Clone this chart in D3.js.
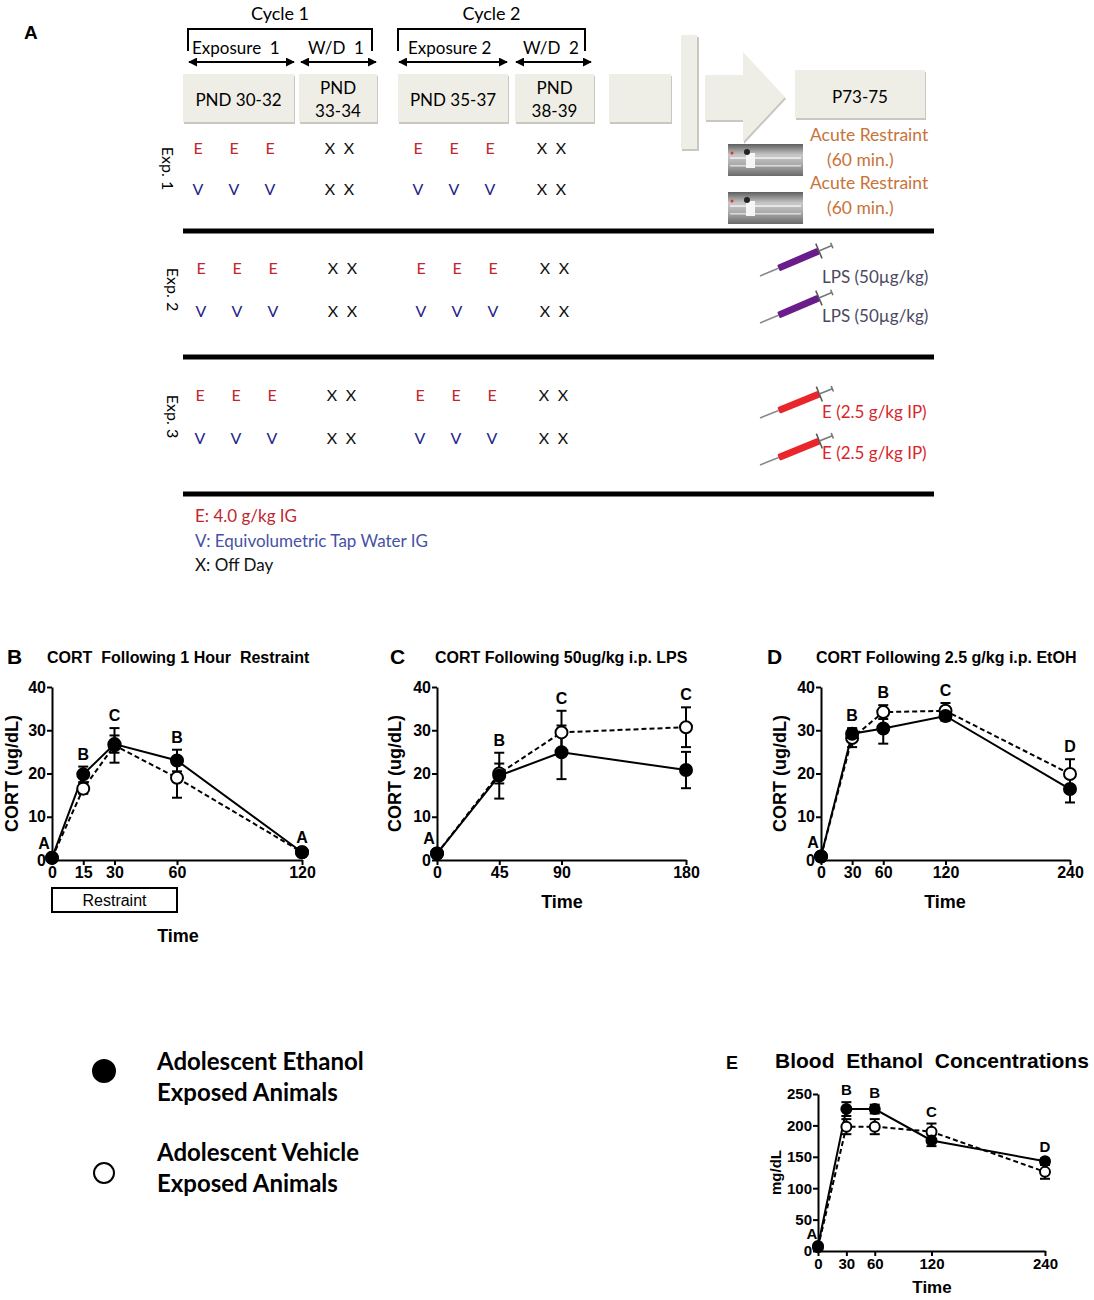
<!DOCTYPE html>
<html>
<head>
<meta charset="utf-8">
<script src="https://cdn.jsdelivr.net/npm/d3@7"></script>
<style>
  body { margin: 0; background: #fff; }
  svg { display: block; }
</style>
</head>
<body>
<div id="fig"></div>
<script>
'use strict'

////////////////////////////////////
/////////////// data ///////////////
////////////////////////////////////

// panel A - design
const cycleLabels = ['Cycle 1', 'Cycle 2']
const phaseLabels = ['Exposure  1', 'W/D  1', 'Exposure 2', 'W/D  2']
const pndLabels = [['PND 30-32'], ['PND', '33-34'], ['PND 35-37'], ['PND', '38-39']]
const adultLabel = 'P73-75'
const scheduleDays = [30, 31, 32, 33, 34, 35, 36, 37, 38, 39]
const ethanolRow = ['E', 'E', 'E', 'X', 'X', 'E', 'E', 'E', 'X', 'X']
const vehicleRow = ['V', 'V', 'V', 'X', 'X', 'V', 'V', 'V', 'X', 'X']
const expLabels = ['Exp. 1', 'Exp. 2', 'Exp. 3']
const challengeLabels = [['Acute Restraint', '(60 min.)'], ['LPS (50µg/kg)'], ['E (2.5 g/kg IP)']]
const doseKey = ['E: 4.0 g/kg IG', 'V: Equivolumetric Tap Water IG', 'X: Off Day']

// panel B - CORT after restraint
const restraintTimes = [0, 15, 30, 60, 120]
const restraintEthanol = [0.5, 19.8, 26.8, 23.0, 1.8]
const restraintEthanolErr = [0.4, 1.8, 2.0, 2.5, 0.4]
const restraintVehicle = [0.5, 16.5, 26.5, 19.0, 1.8]
const restraintVehicleErr = [0.4, 1.2, 4.0, 4.6, 0.4]
const restraintLetters = ['A', 'B', 'C', 'B', 'A']

// panel C - CORT after LPS
const lpsTimes = [0, 45, 90, 180]
const lpsEthanol = [1.5, 19.5, 24.9, 20.8]
const lpsEthanolErr = [0.5, 5.3, 6.2, 4.2]
const lpsVehicle = [1.5, 20.0, 29.5, 30.7]
const lpsVehicleErr = [0.5, 2.3, 5.0, 4.6]
const lpsLetters = ['A', 'B', 'C', 'C']

// panel D - CORT after i.p. ethanol
const etohTimes = [0, 30, 60, 120, 240]
const etohEthanol = [0.8, 29.2, 30.4, 33.3, 16.4]
const etohEthanolErr = [0.3, 1.3, 3.5, 1.1, 3.1]
const etohVehicle = [0.8, 28.2, 34.2, 34.5, 19.9]
const etohVehicleErr = [0.3, 2.1, 1.6, 1.8, 3.4]
const etohLetters = ['A', 'B', 'B', 'C', 'D']

// panel E - blood ethanol
const becTimes = [0, 30, 60, 120, 240]
const becEthanol = [8, 226, 226, 176, 143]
const becEthanolErr = [3, 11, 7, 9, 4]
const becVehicle = [6, 198, 198, 190, 126]
const becVehicleErr = [3, 12, 12, 13, 11]
const becLetters = ['A', 'B', 'B', 'C', 'D']

const legendLabels = [['Adolescent Ethanol', 'Exposed Animals'], ['Adolescent Vehicle', 'Exposed Animals']]

////////////////////////////////////
//////////// svg setup /////////////
////////////////////////////////////

const svgWidth = 1094, svgHeight = 1300
const svg = d3.select('#fig').append('svg')
    .attr('width', svgWidth)
    .attr('height', svgHeight)
    .attr('viewBox', `0 0 ${svgWidth} ${svgHeight}`)

const calibri = 'Lato, "Open Sans", sans-serif'
const arial = '"Liberation Sans", Arial, sans-serif'
const boxFill = '#efeee6', boxShadow = '#c9c8c0'

const defs = svg.append('defs')
defs.append('marker')
    .attr('id', 'arrowHead')
    .attr('viewBox', '0 0 10 10')
    .attr('refX', 9).attr('refY', 5)
    .attr('markerWidth', 4.5).attr('markerHeight', 4.5)
    .attr('orient', 'auto-start-reverse')
    .append('path').attr('d', 'M0,0 L10,5 L0,10 z').attr('fill', '#000')

const photoGrad = defs.append('linearGradient').attr('id', 'photoGrad')
    .attr('x1', 0).attr('y1', 0).attr('x2', 0).attr('y2', 1)
photoGrad.append('stop').attr('offset', '0%').attr('stop-color', '#5e5e5e')
photoGrad.append('stop').attr('offset', '35%').attr('stop-color', '#c9c9c9')
photoGrad.append('stop').attr('offset', '65%').attr('stop-color', '#a9a9a9')
photoGrad.append('stop').attr('offset', '100%').attr('stop-color', '#6a6a6a')

////////////////////////////////////
///////////// panel A //////////////
////////////////////////////////////

const A = svg.append('g').attr('class', 'panelA')

A.append('text').attr('x', 24).attr('y', 39)
    .style('font', `bold 19px ${arial}`).text('A')

// brackets for the two cycles
const brackets = [[188, 372], [398, 585]]
brackets.forEach((b, i) => {
    A.append('path')
        .attr('d', `M${b[0]},51 V29 H${b[1]} V51`)
        .attr('fill', 'none').attr('stroke', '#000').attr('stroke-width', 2)
    A.append('text').attr('x', (b[0] + b[1]) / 2).attr('y', 20)
        .attr('text-anchor', 'middle')
        .style('font', `18px ${calibri}`).text(cycleLabels[i])
})

const phaseX = [192, 308, 408, 523]
const phaseArrows = [[189, 294], [301, 376], [399, 507], [516, 591]]
phaseLabels.forEach((p, i) => {
    A.append('text').attr('x', phaseX[i]).attr('y', 54)
        .attr('xml:space', 'preserve')
        .style('font', `17px ${calibri}`).style('white-space', 'pre').text(p)
    A.append('line')
        .attr('x1', phaseArrows[i][0]).attr('x2', phaseArrows[i][1])
        .attr('y1', 62).attr('y2', 62)
        .attr('stroke', '#000').attr('stroke-width', 2)
        .attr('marker-start', 'url(#arrowHead)').attr('marker-end', 'url(#arrowHead)')
})

// grey day boxes
const boxes = [
    { x: 183, y: 74, w: 111, h: 48 }, { x: 299, y: 74, w: 78, h: 48 },
    { x: 398, y: 74, w: 110, h: 48 }, { x: 515, y: 74, w: 79, h: 48 },
    { x: 609, y: 74, w: 62, h: 48 }, { x: 795, y: 70, w: 130, h: 48 }
]
A.selectAll('.boxShadow').data(boxes).join('rect')
    .attr('class', 'boxShadow')
    .attr('x', d => d.x + 1).attr('y', d => d.y + 2)
    .attr('width', d => d.w).attr('height', d => d.h).attr('fill', boxShadow)
A.selectAll('.box').data(boxes).join('rect')
    .attr('class', 'box')
    .attr('x', d => d.x).attr('y', d => d.y)
    .attr('width', d => d.w).attr('height', d => d.h).attr('fill', boxFill)

pndLabels.forEach((lines, i) => {
    const b = boxes[i]
    const t = A.append('text').attr('text-anchor', 'middle')
        .style('font', `17px ${calibri}`)
    lines.forEach((l, j) => {
        t.append('tspan').attr('x', b.x + b.w / 2)
            .attr('y', lines.length === 1 ? b.y + 32 : b.y + 20 + j * 23)
            .text(l)
    })
})
A.append('text').attr('x', boxes[5].x + boxes[5].w / 2).attr('y', boxes[5].y + 33)
    .attr('text-anchor', 'middle').style('font', `17px ${calibri}`).text(adultLabel)

// time break bar and block arrow
A.append('rect').attr('x', 682).attr('y', 37).attr('width', 17).attr('height', 114).attr('fill', boxShadow)
A.append('rect').attr('x', 681).attr('y', 35).attr('width', 16).attr('height', 114).attr('fill', boxFill)
const blockArrow = 'M705,75 H743 V52 L785,97 L743,142 V120 H705 Z'
A.append('path').attr('d', blockArrow).attr('fill', boxShadow).attr('transform', 'translate(1,2)')
A.append('path').attr('d', blockArrow).attr('fill', boxFill)

// schedule rows
const dayX = d3.scaleLinear()
    .domain([30, 32, 33, 34, 35, 37, 38, 39])
    .range([198, 270, 330, 349, 418, 490, 542, 561])
const codeColor = { E: '#c0262e', V: '#25258a', X: '#111' }
const rowY = [[154, 195], [274, 317], [401, 444]]
const rowShift = [0, 3, 2]
const sepY = [231, 357, 494]

expLabels.forEach((lab, e) => {
    [ethanolRow, vehicleRow].forEach((row, r) => {
        A.selectAll(`.code${e}${r}`).data(row).join('text')
            .attr('class', `code${e}${r}`)
            .attr('x', (d, i) => dayX(scheduleDays[i]) + rowShift[e])
            .attr('y', rowY[e][r])
            .attr('text-anchor', 'middle')
            .attr('fill', d => codeColor[d])
            .style('font', `16px ${calibri}`)
            .text(d => d)
    })
    const cy = (rowY[e][0] + rowY[e][1]) / 2 - 6
    A.append('text')
        .attr('transform', `translate(${e === 0 ? 162 : 167},${cy}) rotate(90)`)
        .attr('text-anchor', 'middle')
        .style('font', `16px ${calibri}`).text(lab)
    A.append('line').attr('x1', 183).attr('x2', 934)
        .attr('y1', sepY[e]).attr('y2', sepY[e])
        .attr('stroke', '#000').attr('stroke-width', 5)
})

// restraint tube photos
function photo(x, y) {
    const g = A.append('g').attr('transform', `translate(${x},${y})`)
    g.append('rect').attr('width', 75).attr('height', 32).attr('fill', 'url(#photoGrad)')
    g.append('rect').attr('x', 2).attr('y', 13).attr('width', 71).attr('height', 2).attr('fill', '#e6e6e6')
    g.append('rect').attr('x', 2).attr('y', 21).attr('width', 71).attr('height', 1.5).attr('fill', '#dcdcdc')
    g.append('rect').attr('x', 18).attr('y', 9).attr('width', 9).attr('height', 15).attr('fill', '#f6f6f6')
    g.append('circle').attr('cx', 19).attr('cy', 8).attr('r', 3).attr('fill', '#222')
    g.append('circle').attr('cx', 4).attr('cy', 9).attr('r', 1.5).attr('fill', '#d33')
}
photo(728, 144)
photo(728, 192)

// syringes
function syringe(x, y, angle, color) {
    const g = A.append('g').attr('transform', `translate(${x},${y}) rotate(${angle})`)
    g.append('line').attr('x1', 0).attr('x2', 20).attr('y1', 0).attr('y2', 0)
        .attr('stroke', '#8a8a8a').attr('stroke-width', 1.6)
    g.append('rect').attr('x', 20).attr('y', -3.5).attr('width', 44).attr('height', 7)
        .attr('rx', 1.5).attr('fill', color)
    g.append('line').attr('x1', 64).attr('x2', 64).attr('y1', -8).attr('y2', 8)
        .attr('stroke', '#555').attr('stroke-width', 1.5)
    g.append('line').attr('x1', 64).attr('x2', 78).attr('y1', 0).attr('y2', 0)
        .attr('stroke', '#777').attr('stroke-width', 1.6)
    g.append('line').attr('x1', 78).attr('x2', 78).attr('y1', -3).attr('y2', 3)
        .attr('stroke', '#777').attr('stroke-width', 1.6)
}
syringe(760, 276, -23, '#6a1d8a')
syringe(760, 323, -23, '#6a1d8a')
syringe(760, 418, -22, '#e8262b')
syringe(760, 465, -22, '#e8262b')

// challenge texts
const orange = '#c8733a', lpsGrey = '#4a495f', red = '#d8262b'
;[141, 189].forEach(y => {
    A.append('text').attr('x', 810).attr('y', y).attr('fill', orange)
        .style('font', `17.5px ${calibri}`).text(challengeLabels[0][0])
    A.append('text').attr('x', 827).attr('y', y + 25).attr('fill', orange)
        .style('font', `17.5px ${calibri}`).text(challengeLabels[0][1])
})
;[283, 322].forEach(y => {
    A.append('text').attr('x', 822).attr('y', y).attr('fill', lpsGrey)
        .style('font', `17px ${calibri}`).text(challengeLabels[1][0])
})
;[418, 459].forEach(y => {
    A.append('text').attr('x', 822).attr('y', y).attr('fill', red)
        .style('font', `17px ${calibri}`).text(challengeLabels[2][0])
})

// dose key
const keyColors = ['#c0262e', '#4651a6', '#111']
doseKey.forEach((k, i) => {
    A.append('text').attr('x', 195).attr('y', 522 + i * 24.5)
        .attr('fill', keyColors[i])
        .style('font', `17px ${calibri}`).text(k)
})

////////////////////////////////////
////////// CORT / BEC plots ////////
////////////////////////////////////

function panel(cfg) {
    const g = svg.append('g').attr('transform', `translate(${cfg.left},${cfg.top})`)
    const x = d3.scaleLinear().domain([0, cfg.xMax]).range([0, cfg.w])
    const y = d3.scaleLinear().domain([0, cfg.yMax]).range([cfg.h, 0])

    // axes
    const yAxis = g.append('g')
        .call(d3.axisLeft(y).tickValues(cfg.yTicks).tickSize(5).tickSizeOuter(0).tickPadding(1))
    const xAxis = g.append('g').attr('transform', `translate(0,${cfg.h})`)
        .call(d3.axisBottom(x).tickValues(cfg.times).tickSize(5).tickSizeOuter(0).tickPadding(2))
    ;[xAxis, yAxis].forEach(a => {
        a.select('.domain').attr('stroke-width', 2)
        a.selectAll('.tick line').attr('stroke-width', 2)
        a.selectAll('.tick text').style('font', `bold ${cfg.tickFont}px ${arial}`).attr('fill', '#000')
    })

    const series = [
        { vals: cfg.vehicle, err: cfg.vehicleErr, dash: '5,3', fill: '#fff' },
        { vals: cfg.ethanol, err: cfg.ethanolErr, dash: null, fill: '#000' }
    ]

    const line = d3.line().x((d, i) => x(cfg.times[i])).y(d => y(d))
    series.forEach(s => {
        g.append('path').datum(s.vals).attr('d', line)
            .attr('fill', 'none').attr('stroke', '#000').attr('stroke-width', 2)
            .attr('stroke-dasharray', s.dash)
    })

    // error bars
    series.forEach((s, k) => {
        const eb = g.selectAll(`.err${k}`).data(s.vals).join('g').attr('class', `err${k}`)
        eb.append('line')
            .attr('x1', (d, i) => x(cfg.times[i])).attr('x2', (d, i) => x(cfg.times[i]))
            .attr('y1', (d, i) => y(d - s.err[i])).attr('y2', (d, i) => y(d + s.err[i]))
            .attr('stroke', '#000').attr('stroke-width', 2)
        ;[-1, 1].forEach(sign => {
            eb.append('line')
                .attr('x1', (d, i) => x(cfg.times[i]) - cfg.cap).attr('x2', (d, i) => x(cfg.times[i]) + cfg.cap)
                .attr('y1', (d, i) => y(d + sign * s.err[i])).attr('y2', (d, i) => y(d + sign * s.err[i]))
                .attr('stroke', '#000').attr('stroke-width', 2)
        })
    })

    // markers
    series.forEach((s, k) => {
        g.selectAll(`.dot${k}`).data(s.vals).join('circle').attr('class', `dot${k}`)
            .attr('cx', (d, i) => x(cfg.times[i])).attr('cy', d => y(d))
            .attr('r', cfg.r)
            .attr('fill', s.fill).attr('stroke', '#000').attr('stroke-width', 2)
    })

    // significance letters
    g.selectAll('.letter').data(cfg.letters).join('text').attr('class', 'letter')
        .attr('x', (d, i) => x(cfg.times[i]) - (i === 0 ? cfg.firstShift : 0))
        .attr('y', (d, i) => {
            const top = Math.max(cfg.ethanol[i] + cfg.ethanolErr[i], cfg.vehicle[i] + cfg.vehicleErr[i])
            return y(top) - (i === 0 ? cfg.firstLift : 7)
        })
        .attr('text-anchor', 'middle')
        .style('font', `bold ${cfg.letterFont}px ${arial}`)
        .text(d => d)

    // titles and axis labels
    svg.append('text').attr('x', cfg.tagX).attr('y', cfg.titleY + 7)
        .style('font', `bold ${cfg.tagFont}px ${arial}`).text(cfg.tag)
    svg.append('text').attr('x', cfg.titleX).attr('y', cfg.titleY + 6)
        .attr('xml:space', 'preserve').style('white-space', 'pre')
        .style('font', `bold ${cfg.titleFont}px ${arial}`).text(cfg.title)
    svg.append('text')
        .attr('transform', `translate(${cfg.yLabelX},${cfg.top + cfg.h / 2}) rotate(-90)`)
        .attr('text-anchor', 'middle').attr('dy', '0.35em')
        .style('font', `bold ${cfg.yLabelFont}px ${arial}`).text(cfg.yLabel)
    svg.append('text').attr('x', cfg.timeX).attr('y', cfg.timeY)
        .attr('text-anchor', 'middle')
        .style('font', `bold ${cfg.timeFont}px ${arial}`).text('Time')

    return { g, x, y }
}

const cortTicks = [0, 10, 20, 30, 40]
const cortBase = {
    top: 687, h: 173, yMax: 40, yTicks: cortTicks, r: 6, cap: 5, firstLift: 7, firstShift: 8,
    tickFont: 16, letterFont: 16, tagFont: 21, titleFont: 16, yLabelFont: 18, timeFont: 18,
    titleY: 657, yLabel: 'CORT (ug/dL)'
}

const pB = panel(Object.assign({}, cortBase, {
    left: 52, w: 250, xMax: 120, times: restraintTimes,
    ethanol: restraintEthanol, ethanolErr: restraintEthanolErr,
    vehicle: restraintVehicle, vehicleErr: restraintVehicleErr, letters: restraintLetters,
    tag: 'B', tagX: 7, title: 'CORT  Following 1 Hour  Restraint', titleX: 47,
    yLabelX: 12, timeX: 178, timeY: 942
}))
// restraint period box
pB.g.append('rect')
    .attr('x', pB.x(0)).attr('y', 201)
    .attr('width', pB.x(60) - pB.x(0)).attr('height', 24)
    .attr('fill', '#fff').attr('stroke', '#000').attr('stroke-width', 2)
pB.g.append('text')
    .attr('x', (pB.x(0) + pB.x(60)) / 2).attr('y', 219)
    .attr('text-anchor', 'middle')
    .style('font', `16px ${arial}`).text('Restraint')

panel(Object.assign({}, cortBase, {
    left: 437, w: 249, xMax: 180, times: lpsTimes,
    ethanol: lpsEthanol, ethanolErr: lpsEthanolErr,
    vehicle: lpsVehicle, vehicleErr: lpsVehicleErr, letters: lpsLetters,
    tag: 'C', tagX: 390, title: 'CORT Following 50ug/kg i.p. LPS', titleX: 435,
    yLabelX: 395, timeX: 562, timeY: 908
}))

panel(Object.assign({}, cortBase, {
    left: 821, w: 249, xMax: 240, times: etohTimes,
    ethanol: etohEthanol, ethanolErr: etohEthanolErr,
    vehicle: etohVehicle, vehicleErr: etohVehicleErr, letters: etohLetters,
    tag: 'D', tagX: 767, title: 'CORT Following 2.5 g/kg i.p. EtOH', titleX: 816,
    yLabelX: 780, timeX: 945, timeY: 908
}))

panel({
    top: 1094, h: 157, left: 818, w: 227, xMax: 240, yMax: 250,
    yTicks: [0, 50, 100, 150, 200, 250], times: becTimes, r: 5, cap: 5, firstLift: 5, firstShift: 6,
    ethanol: becEthanol, ethanolErr: becEthanolErr,
    vehicle: becVehicle, vehicleErr: becVehicleErr, letters: becLetters,
    tickFont: 15, letterFont: 15, tagFont: 18, titleFont: 21, yLabelFont: 15, timeFont: 17,
    tag: 'E', tagX: 726, titleY: 1062, title: 'Blood  Ethanol  Concentrations', titleX: 775,
    yLabel: 'mg/dL', yLabelX: 776, timeX: 932, timeY: 1293
})

////////////////////////////////////
////////////// legend //////////////
////////////////////////////////////

const legendY = [1071, 1173]
legendLabels.forEach((lines, i) => {
    svg.append('circle').attr('cx', 104).attr('cy', legendY[i])
        .attr('r', i === 0 ? 11 : 10)
        .attr('fill', i === 0 ? '#000' : '#fff')
        .attr('stroke', '#000').attr('stroke-width', 2)
    lines.forEach((l, j) => {
        svg.append('text').attr('x', 157).attr('y', legendY[i] - 1 + j * 31 - (i === 1 ? 11 : 0))
            .style('font', `bold 24px ${calibri}`).text(l)
    })
})
</script>
</body>
</html>
